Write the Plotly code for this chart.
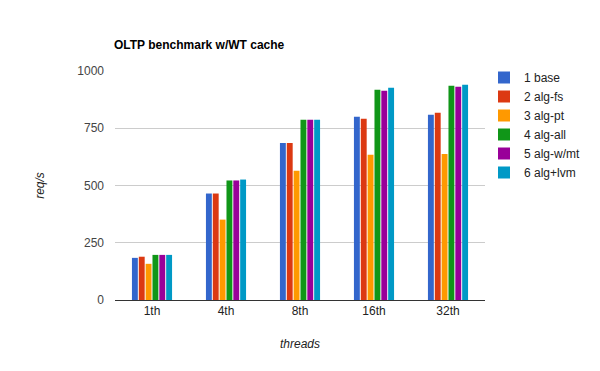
import plotly.graph_objects as go

categories = ["1th", "4th", "8th", "16th", "32th"]
series_names = ["1 base", "2 alg-fs", "3 alg-pt", "4 alg-all", "5 alg-w/mt", "6 alg+lvm"]
base = [184, 465, 686, 800, 809]
alg_fs = [189, 465, 686, 791, 818]
alg_pt = [158, 351, 564, 634, 638]
alg_all = [197, 522, 787, 918, 936]
alg_wmt = [197, 522, 787, 914, 931]
alg_lvm = [197, 526, 787, 927, 940]
series_values = [base, alg_fs, alg_pt, alg_all, alg_wmt, alg_lvm]
colors = ["#3366cc", "#dc3912", "#ff9900", "#109618", "#990099", "#0099c6"]
y_ticks = [0, 250, 500, 750, 1000]

fig = go.Figure()
for name, vals, col in zip(series_names, series_values, colors):
    fig.add_trace(go.Bar(name=name, x=categories, y=vals, marker_color=col,
                         marker_line_width=0, hoverinfo="skip"))

# plot area in pixels
L, R, T, B = 115, 485, 71, 300
W, H = R - L, B - T

font_family = "Liberation Sans, Arial, sans-serif"
fig.update_layout(
    width=600, height=371,
    margin=dict(l=L, r=600 - R, t=T, b=371 - B, autoexpand=False),
    paper_bgcolor="white", plot_bgcolor="white",
    barmode="group", bargap=0.445, bargroupgap=0.14,
    font=dict(family=font_family, size=12, color="#444444"),
    title=dict(text="<b>OLTP benchmark w/WT cache</b>", x=114/600, xanchor="left",
               y=1 - 45/371, yanchor="middle",
               font=dict(family=font_family, size=12, color="#000000")),
    showlegend=True,
    legend=dict(x=(484 - L) / W, xanchor="left", y=(B - 63) / H, yanchor="top",
                font=dict(family=font_family, size=12, color="#222222"),
                bgcolor="rgba(0,0,0,0)", itemclick=False),
    xaxis=dict(showgrid=False, showline=True, linecolor="#333333", linewidth=1,
               ticks="", automargin=False, tickfont=dict(size=12, color="#222222"),
               title=dict(text="<i>threads</i>", standoff=22,
                          font=dict(size=12, color="#222222"))),
    yaxis=dict(range=[0, 1000], tickvals=y_ticks, ticktext=[str(t) for t in y_ticks],
               showgrid=True, gridcolor="#cccccc", gridwidth=1, zeroline=True,
               zerolinecolor="#333333", zerolinewidth=1, showline=False,
               ticks="", ticklabelstandoff=10, automargin=False,
               tickfont=dict(size=12, color="#444444"),
               title=dict(text="<i>req/s</i>", standoff=30,
                          font=dict(size=12, color="#222222"))),
)
fig.write_html("out.html", config={"displayModeBar": False},
               post_script="document.body.style.margin='0';")
